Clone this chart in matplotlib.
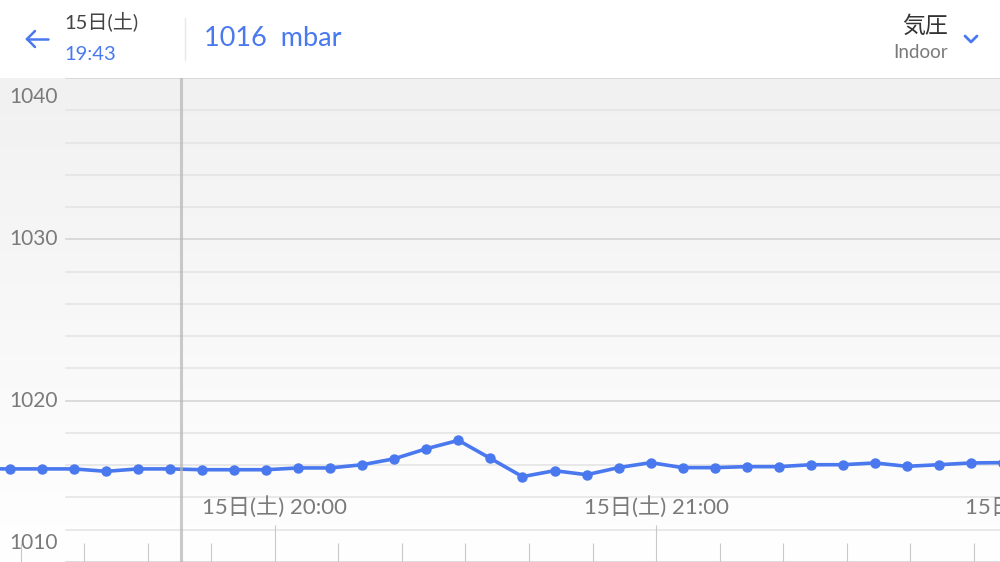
import numpy as np
import pandas as pd
import matplotlib
matplotlib.use("Agg")
import matplotlib.pyplot as plt
import matplotlib.dates as mdates
from matplotlib.lines import Line2D
from matplotlib.colors import LinearSegmentedColormap

# readings (5 min sampling)
times = ["19:13:14", "19:18:16", "19:23:19", "19:28:22", "19:33:24", "19:38:27",
         "19:43:29", "19:48:32", "19:53:35", "19:58:37", "20:03:40", "20:08:42",
         "20:13:45", "20:18:48", "20:23:50", "20:28:53", "20:33:56", "20:38:58",
         "20:44:01", "20:49:04", "20:54:06", "20:59:09", "21:04:11", "21:09:14",
         "21:14:17", "21:19:20", "21:24:22", "21:29:25", "21:34:28", "21:39:30",
         "21:44:33", "21:49:35", "21:54:38"]
pressure = [1015.78, 1015.77, 1015.77, 1015.77, 1015.62, 1015.77,
            1015.77, 1015.72, 1015.72, 1015.72, 1015.83, 1015.83,
            1016.03, 1016.40, 1017.02, 1017.54, 1016.42, 1015.29,
            1015.66, 1015.41, 1015.85, 1016.16, 1015.85, 1015.85,
            1015.91, 1015.91, 1016.03, 1016.03, 1016.14, 1015.93,
            1016.03, 1016.14, 1016.16]
y_labels = [1010, 1020, 1030, 1040]
hour_labels = [20, 21, 22]
day = "2024-06-15"
day_label = "15日(土)"
selected_time = "19:43"
selected_value = "1016"
unit = "mbar"
title = "気圧"
subtitle = "Indoor"

BLUE = "#4a78ee"
GRAY_TXT = "#7a7a7a"
DARK_TXT = "#444444"
FONT = ["Lato", "Noto Sans CJK JP", "DejaVu Sans"]
plt.rcParams["font.family"] = FONT

t = pd.to_datetime([f"{day} {s}" for s in times])
x_start = pd.Timestamp(f"{day} 19:16:42")
x_end = pd.Timestamp(f"{day} 21:54:10")
cursor = pd.Timestamp(f"{day} 19:45:12")
y_lo, y_hi = 1010, 1040

W, H = 1000, 562
fig = plt.figure(figsize=(10, 5.62), dpi=100, facecolor="white")


def fx(px):
    return px / W


def fy(py):
    return 1 - py / H


ax = fig.add_axes([0, 0, 1, fy(78)])
ax.set_xlim(x_start, x_end)
ax.set_ylim(y_lo, y_hi)
for s in ax.spines.values():
    s.set_visible(False)

# background gradient
cmap = LinearSegmentedColormap.from_list("bg", ["#ffffff", "#f1f1f1"])
ax.imshow(np.linspace(0, 1, 256).reshape(-1, 1), extent=[mdates.date2num(x_start), mdates.date2num(x_end), y_lo, y_hi],
          aspect="auto", cmap=cmap, origin="lower", zorder=0)

# grid lines every 2 mbar, darker every 10
for v in range(y_lo, y_hi + 1, 2):
    c = "#d2d2d2" if v % 10 == 0 else "#e3e3e3"
    ax.axhline(v, xmin=0.066, xmax=1, color=c, lw=1.1, zorder=1)

# y labels, clamped inside the plot area
pad = 1.15
for v in y_labels:
    yp = min(max(v, y_lo + pad), y_hi - pad)
    ax.text(0.058, yp, str(v), transform=ax.get_yaxis_transform(), ha="right", va="center",
            fontsize=15, color=GRAY_TXT, zorder=3)

# x ticks
ax.set_yticks([])
ax.xaxis.set_major_locator(mdates.HourLocator())
ax.xaxis.set_minor_locator(mdates.MinuteLocator(byminute=range(0, 60, 10)))
ax.tick_params(axis="x", which="major", direction="in", length=27, width=0.8, color="#c8c8c8",
               labelbottom=False)
ax.tick_params(axis="x", which="minor", direction="in", length=13.5, width=0.8, color="#c8c8c8")
for h in hour_labels:
    ax.text(pd.Timestamp(f"{day} {h}:00"), 0.114, f"{day_label} {h}:00", transform=ax.get_xaxis_transform(),
            ha="center", va="center", fontsize=16, color=GRAY_TXT, zorder=3)

# data
ax.plot(t, pressure, color=BLUE, lw=2.6, marker="o", ms=6.5, zorder=4, clip_on=True)

# cursor
ax.axvline(cursor, color="#b5b5b5", lw=2.2, alpha=0.7, zorder=5)

# header
fig.add_artist(Line2D([fx(27), fx(48)], [fy(39), fy(39)], color=BLUE, lw=1.8, solid_capstyle="round"))
fig.add_artist(Line2D([fx(35), fx(27), fx(35)], [fy(31), fy(39), fy(47)], color=BLUE, lw=1.8,
                      solid_capstyle="round", solid_joinstyle="miter"))
fig.text(fx(64), fy(21), day_label, ha="left", va="center", fontsize=14.5, color=DARK_TXT)
fig.text(fx(64), fy(55), selected_time, ha="left", va="center", fontsize=14.5, color=BLUE)
fig.add_artist(Line2D([fx(185), fx(185)], [fy(18), fy(60)], color="#e8e8e8", lw=1))
fig.text(fx(204), fy(39), f"{selected_value}  {unit}", ha="left", va="center", fontsize=19.5, color=BLUE)
fig.text(fx(948), fy(26), title, ha="right", va="center", fontsize=16.5, color="#333333")
fig.text(fx(948), fy(52), subtitle, ha="right", va="center", fontsize=13.5, color=GRAY_TXT)
fig.add_artist(Line2D([fx(965), fx(971), fx(977)], [fy(36), fy(42), fy(36)], color=BLUE, lw=2,
                      solid_capstyle="round"))

fig.savefig("out.png", dpi=100, facecolor="white")
